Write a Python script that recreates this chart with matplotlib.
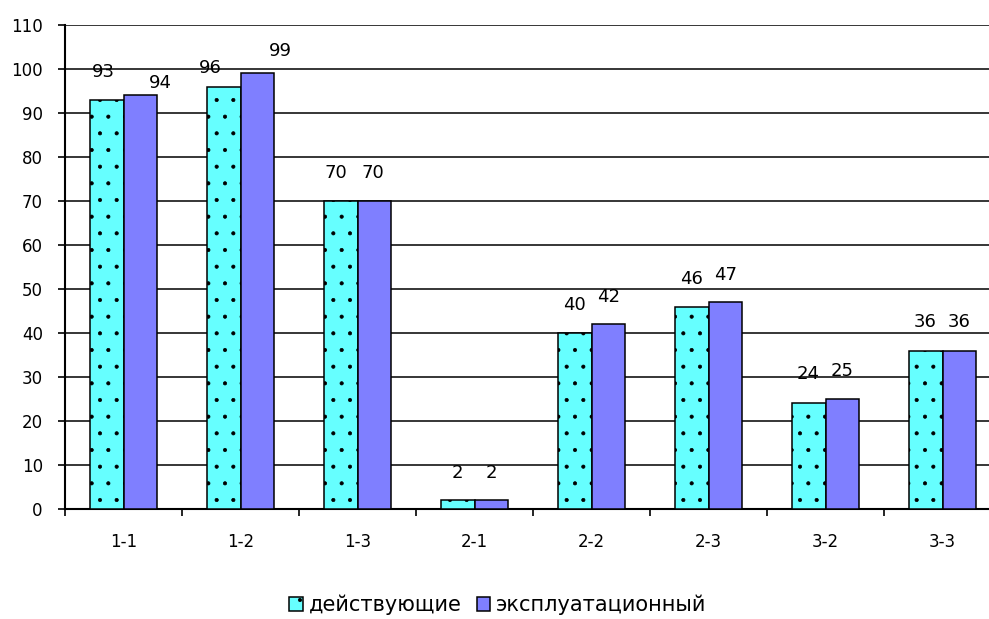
import matplotlib
matplotlib.use("Agg")
import matplotlib.pyplot as plt
import numpy as np

plt.rcParams['font.family'] = ['DejaVu Sans']
plt.rcParams['hatch.linewidth'] = 0.5
plt.rcParams['hatch.color'] = '#002222'

categories = ["1-1", "1-2", "1-3", "2-1", "2-2", "2-3", "3-2", "3-3"]
active = [93, 96, 70, 2, 40, 46, 24, 36]
operational = [94, 99, 70, 2, 42, 47, 25, 36]

# label shifts in pixels (dx, dy above bar top); a few are nudged apart
active_shift = [(-3, 19), (-13, 10), (-5, 19), (0, 18), (0, 19), (0, 19), (0, 20), (0, 20)]
operational_shift = [(20, 3), (23, 13), (-2, 19), (0, 18), (0, 18), (0, 18), (0, 19), (0, 20)]

fig = plt.figure(figsize=(9.89, 6.19), dpi=100)
# plot area runs past the right edge of the image
ax = fig.add_axes([65 / 989, 110 / 619, 936 / 989, 484 / 619])

x = np.arange(len(categories))
w = 0.29
b1 = ax.bar(x - w / 2, active, w, color='#66FFFF', edgecolor='black',
            linewidth=1.1, hatch='.', label='действующие', zorder=3)
b2 = ax.bar(x + w / 2, operational, w, color='#7F7FFF', edgecolor='black',
            linewidth=1.1, label='эксплуатационный', zorder=3)

px = 0.72
for bars, vals, shifts in [(b1, active, active_shift), (b2, operational, operational_shift)]:
    for rect, v, (dx, dy) in zip(bars, vals, shifts):
        ax.annotate(str(v), (rect.get_x() + rect.get_width() / 2, v),
                    xytext=(dx * px, dy * px), textcoords='offset points',
                    ha='center', va='bottom', fontsize=13, zorder=4)

ax.set_xlim(-0.5, len(categories) - 0.5)
ax.set_ylim(0, 110)
ax.set_yticks(np.arange(0, 111, 10))
ax.yaxis.grid(True, color='black', linewidth=1.1)
ax.set_axisbelow(True)

ax.set_xticks(np.arange(-0.5, len(categories), 1))
ax.set_xticklabels([])
ax.set_xticks(x, minor=True)
ax.set_xticklabels(categories, minor=True)
ax.tick_params(axis='x', which='major', length=5, width=1.2, direction='out')
ax.tick_params(axis='x', which='minor', length=0, pad=17, labelsize=12)
ax.tick_params(axis='y', length=5, width=1.2, labelsize=12, pad=11)

for s in ['top', 'right']:
    ax.spines[s].set_visible(False)
ax.spines['left'].set_linewidth(1.5)
ax.spines['bottom'].set_linewidth(1.5)

fig.legend(handles=[b1, b2], loc='center', bbox_to_anchor=(498 / 989, 1 - 605 / 619),
           ncol=2, frameon=False, fontsize=15, handlelength=0.65,
           handleheight=0.65, handletextpad=0.3, columnspacing=0.7)

fig.savefig("out.png", dpi=100)
